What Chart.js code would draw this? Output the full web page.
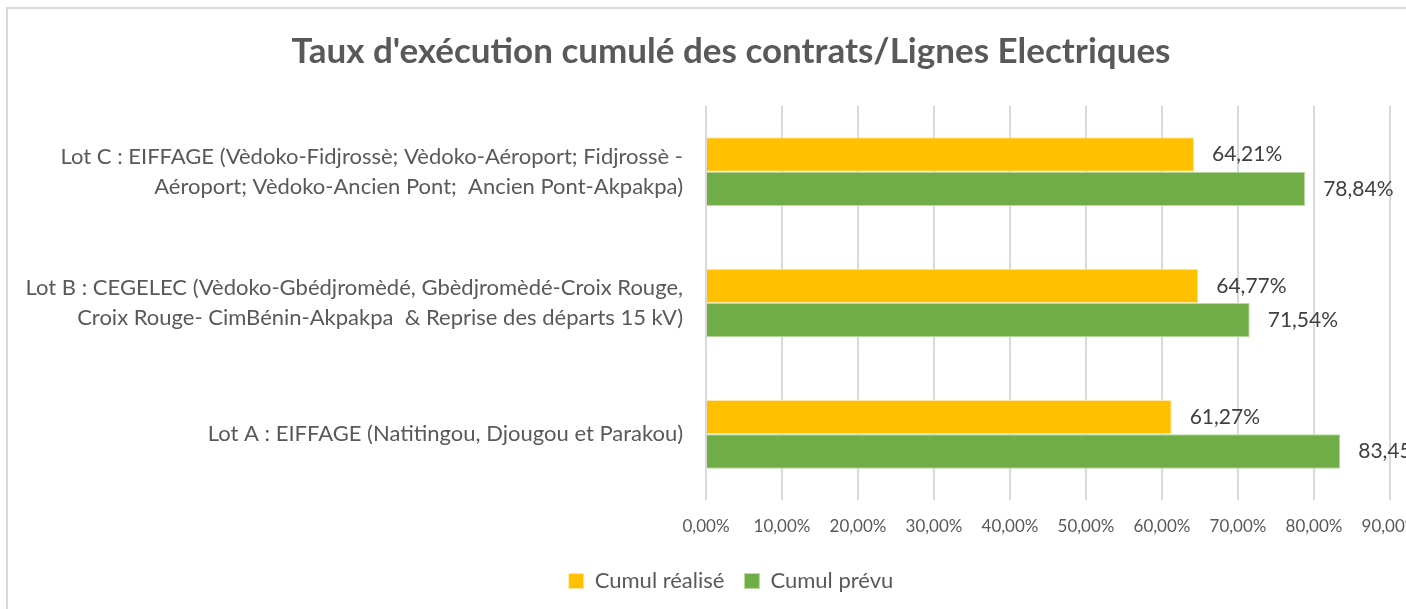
<!DOCTYPE html>
<html>
<head>
<meta charset="utf-8">
<script src="https://cdn.jsdelivr.net/npm/chart.js@4"></script>
<style>
  html, body { margin: 0; padding: 0; overflow: hidden; background: #fff; }
  #frame {
    position: absolute; left: 6px; top: 7px;
    border: 2px solid #d9d9d9;
    width: 1446px; height: 620px;
  }
  canvas { display: block; }
</style>
</head>
<body>
<div id="frame"><canvas id="myChart" width="1446" height="620"></canvas></div>
<script>
const categories = [
    ['Lot C : EIFFAGE (Vèdoko-Fidjrossè; Vèdoko-Aéroport; Fidjrossè -', 'Aéroport; Vèdoko-Ancien Pont;  Ancien Pont-Akpakpa)'],
    ['Lot B : CEGELEC (Vèdoko-Gbédjromèdé, Gbèdjromèdé-Croix Rouge,', 'Croix Rouge- CimBénin-Akpakpa  & Reprise des départs 15 kV)'],
    'Lot A : EIFFAGE (Natitingou, Djougou et Parakou)'
];
const cumulRealise = [64.21, 64.77, 61.27];
const cumulPrevu = [78.84, 71.54, 83.45];
const xTicks = [0, 10, 20, 30, 40, 50, 60, 70, 80, 90];

const fontFamily = 'Lato, "Open Sans", sans-serif';
const fmt = v => v.toFixed(2).replace('.', ',') + '%';

// labels at the end of each bar
const barLabels = {
    id: 'barLabels',
    afterDatasetsDraw(chart) {
        const ctx = chart.ctx;
        ctx.save();
        ctx.font = '21px ' + fontFamily;
        ctx.fillStyle = '#404040';
        ctx.textBaseline = 'middle';
        ctx.textAlign = 'left';
        chart.data.datasets.forEach((ds, i) => {
            chart.getDatasetMeta(i).data.forEach((bar, j) => {
                ctx.fillText(fmt(ds.data[j]), bar.x + 18, bar.y);
            });
        });
        ctx.restore();
    }
};

const config = {
    type: 'bar',
    data: {
        labels: categories,
        datasets: [{
            label: 'Cumul réalisé',
            data: cumulRealise,
            backgroundColor: '#FFC000',
            borderColor: '#ffe9a6',
            borderWidth: 1,
            barPercentage: 1,
            categoryPercentage: 0.523
        }, {
            label: 'Cumul prévu',
            data: cumulPrevu,
            backgroundColor: '#70AD47',
            borderColor: '#b9dca3',
            borderWidth: 1,
            barPercentage: 1,
            categoryPercentage: 0.523
        }]
    },
    options: {
        indexAxis: 'y',
        responsive: false,
        animation: false,
        layout: { padding: { top: 22, right: 0, bottom: 27, left: 0 } },
        plugins: {
            title: {
                display: true,
                text: "Taux d'exécution cumulé des contrats/Lignes Electriques",
                color: '#595959',
                font: { family: fontFamily, size: 35, weight: 'bold' },
                padding: { top: 0, bottom: 33 }
            },
            legend: {
                position: 'bottom',
                labels: {
                    color: '#595959',
                    boxWidth: 15,
                    boxHeight: 15,
                    padding: 20,
                    font: { family: fontFamily, size: 22 }
                }
            },
            tooltip: { enabled: false }
        },
        scales: {
            x: {
                min: 0,
                max: 90,
                afterBuildTicks: axis => { axis.ticks = xTicks.map(v => ({ value: v })); },
                afterFit: axis => { axis.height = 50; },
                grid: { color: '#d9d9d9', lineWidth: 2, drawTicks: false },
                border: { display: false },
                ticks: {
                    padding: 16,
                    color: '#595959',
                    font: { family: fontFamily, size: 17 },
                    callback: v => fmt(v)
                }
            },
            y: {
                afterFit: axis => { axis.width = 698; },
                grid: { display: false },
                border: { display: false },
                ticks: {
                    padding: 15,
                    color: '#595959',
                    font: { family: fontFamily, size: 22, lineHeight: 1.36 }
                }
            },
            // empty right-hand space so the plot ends at 90 %
            gap: {
                type: 'category',
                axis: 'y',
                position: 'right',
                afterFit: axis => { axis.width = 64; },
                grid: { display: false },
                border: { display: false },
                ticks: { display: false }
            }
        }
    },
    plugins: [barLabels]
};

var ctx = document.getElementById('myChart').getContext('2d');
var myChart = new Chart(ctx, config);
</script>
</body>
</html>
